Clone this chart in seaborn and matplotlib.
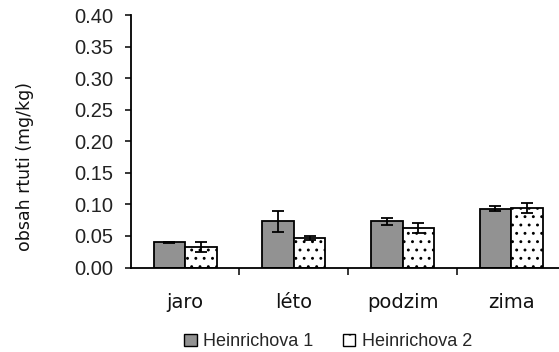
import pandas as pd
import matplotlib
matplotlib.use('Agg')
import matplotlib.pyplot as plt
import seaborn as sns
from matplotlib.patches import Patch

seasons = ['jaro', 'léto', 'podzim', 'zima']
sites = ['Heinrichova 1', 'Heinrichova 2']
site1_vals = [0.040, 0.073, 0.073, 0.093]
site1_err = [0.001, 0.016, 0.005, 0.004]
site2_vals = [0.032, 0.047, 0.063, 0.094]
site2_err = [0.008, 0.003, 0.008, 0.008]
yticks = [0.0, 0.05, 0.10, 0.15, 0.20, 0.25, 0.30, 0.35, 0.40]

df = pd.DataFrame({
    'season': seasons * 2,
    'site': [sites[0]] * 4 + [sites[1]] * 4,
    'value': site1_vals + site2_vals,
    'err': site1_err + site2_err,
})

sns.set_style('white')
plt.rcParams['font.family'] = ['DejaVu Sans']
plt.rcParams['hatch.linewidth'] = 0.9

fig = plt.figure(figsize=(5.59, 3.52), dpi=100)
ax = fig.add_axes([0.234, 0.240, 0.766, 0.717])

sns.barplot(data=df, x='season', y='value', hue='site', order=seasons,
            hue_order=sites, palette=['#929292', 'white'], width=0.58,
            errorbar=None, edgecolor='black', linewidth=1.3, legend=False, ax=ax)

# second series dotted, error bars taken from the table
bars = [p for p in ax.patches if p.get_height() > 0]
n = len(seasons)
for i, p in enumerate(bars):
    if i >= n:
        p.set_hatch('..')
    row = df.iloc[i]
    cx = p.get_x() + p.get_width() / 2
    ax.errorbar(cx, row['value'], yerr=row['err'], fmt='none', ecolor='black',
                elinewidth=1.3, capsize=4, capthick=1.3)

ax.set_ylim(0, 0.40)
ax.set_xlim(-0.5, 3.44)
ax.set_yticks(yticks)
ax.set_yticklabels([f'{v:.2f}' for v in yticks], fontsize=14.5,
                   family='Liberation Sans', color='#222222')
ax.set_xticks(range(n))
ax.set_xticklabels(seasons, fontsize=14, color='#111111')
ax.set_xticks([0.5, 1.5, 2.5], minor=True)
ax.tick_params(axis='x', which='major', length=0, pad=18)
ax.tick_params(axis='x', which='minor', direction='out', length=5, width=1.3, bottom=True)
ax.tick_params(axis='y', direction='out', length=4.5, width=1.3, left=True, pad=8)
ax.set_xlabel('')
ax.set_ylabel('obsah rtuti (mg/kg)', fontsize=12.5, color='#111111')
ax.yaxis.set_label_coords(-0.225, 0.40)

for s in ['top', 'right']:
    ax.spines[s].set_visible(False)
for s in ['left', 'bottom']:
    ax.spines[s].set_color('black')
    ax.spines[s].set_linewidth(1.3)

handles = [Patch(facecolor='#929292', edgecolor='black', linewidth=1.0),
           Patch(facecolor='white', edgecolor='black', linewidth=1.0, hatch='.')]
fig.legend(handles, sites, loc='center', bbox_to_anchor=(0.587, 0.029), ncol=2,
           frameon=False, handlelength=0.7, handleheight=0.7, handletextpad=0.35,
           columnspacing=1.6, prop={'family': 'Liberation Sans', 'size': 13})

fig.savefig('out.png', dpi=100)
